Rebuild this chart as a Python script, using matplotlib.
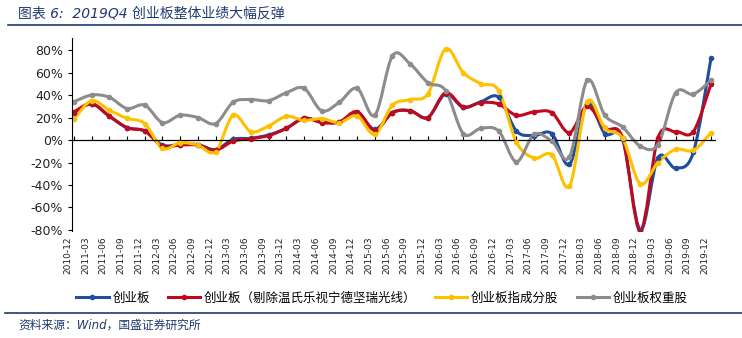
import numpy as np
import pandas as pd
import matplotlib
matplotlib.use("Agg")
import matplotlib.pyplot as plt
from matplotlib.path import Path
from matplotlib.patches import PathPatch
from matplotlib.lines import Line2D
import matplotlib.transforms as mtransforms

plt.rcParams['font.family'] = ['DejaVu Sans', 'Noto Sans CJK SC']

# =========================
# Data (YoY growth, %)
# =========================

quarters = pd.date_range("2010-12-31", "2019-12-31", freq="QE").strftime("%Y-%m").tolist()

gem_all = [24, 32, 21, 11, 8, -4.5, -4, -4, -8.5, 0.6, 1.5, 4.5, 10.4, 19.3, 16.4, 16, 24.4, 9.5,
           24.4, 26, 20, 41, 29, 34, 38, 8, 4, 5.7, -21.7, 32, 5.7, 0.6, -80, -15.8, -25, -11, 73]
gem_ex = [25, 32.4, 21.4, 11, 8, -5.4, -4.5, -4.5, -9, -1, 1.2, 4, 10.4, 19.3, 15.5, 16, 25.3, 8.6,
          24.4, 26, 20, 42, 29.5, 33.3, 32, 22, 25, 24.4, 6.5, 30, 10.4, 2, -81, 2, 7.4, 7.4, 50]
gem_index = [18.5, 35, 26.5, 19.3, 14.6, -7.4, -2.4, -4.5, -10.4, 22, 7.4, 12.5, 21, 17.5, 19, 15.5, 21.4, 5,
             31, 36, 41, 81, 60, 50, 44, -1.8, -16, -13, -41, 34, 10.4, 1.5, -39, -20, -8.3, -9.2, 6.5]
gem_weight = [34, 40, 38, 28, 31, 15.5, 22, 20, 14.6, 33.6, 36, 35, 42, 46, 26, 33.6, 46, 22,
              75, 67.6, 51, 44, 5.7, 10.4, 8, -19.3, 5, -1, -15, 53, 22, 11.6, -5.4, -4, 42, 40.8, 53]

series_labels = ["创业板", "创业板（剔除温氏乐视宁德坚瑞光线）", "创业板指成分股", "创业板权重股"]
series_colors = ["#1F4E9C", "#C0081E", "#FFC000", "#8C8C8C"]
y_ticks = [-80, -60, -40, -20, 0, 20, 40, 60, 80]

NAVY = "#1F3A70"


def smooth_path(xs, ys):
    # Excel-like smoothed line: cubic bezier through every point
    n = len(xs)
    verts = [(xs[0], ys[0])]
    codes = [Path.MOVETO]
    for i in range(n - 1):
        p0 = i - 1 if i > 0 else i
        p3 = i + 2 if i + 2 < n else i + 1
        c1 = (xs[i] + (xs[i + 1] - xs[p0]) / 6, ys[i] + (ys[i + 1] - ys[p0]) / 6)
        c2 = (xs[i + 1] - (xs[p3] - xs[i]) / 6, ys[i + 1] - (ys[p3] - ys[i]) / 6)
        verts += [c1, c2, (xs[i + 1], ys[i + 1])]
        codes += [Path.CURVE4] * 3
    return Path(verts, codes)


# =========================
# Plot
# =========================

fig = plt.figure(figsize=(7.42, 3.38), dpi=100)
ax = fig.add_axes([72 / 742, 1 - 231 / 338, (716 - 72) / 742, (231 - 38) / 338])

x = np.arange(len(quarters))
all_series = [gem_all, gem_ex, gem_index, gem_weight]

handles = []
for values, color, label in zip(all_series, series_colors, series_labels):
    ax.add_patch(PathPatch(smooth_path(x, values), facecolor="none", edgecolor=color, lw=2.2,
                           capstyle="round", joinstyle="round"))
    ax.plot(x, values, "o", ms=3, color=color)
    handles.append(Line2D([], [], color=color, lw=2.2, marker="o", ms=3))

ax.set_xlim(-0.11, 36.28)
ax.set_ylim(-80.9, 90.7)

for side in ["top", "right", "bottom"]:
    ax.spines[side].set_visible(False)
ax.spines["left"].set_color("black")
ax.spines["left"].set_linewidth(0.8)

ax.set_yticks(y_ticks)
ax.set_yticklabels([f"{v}%" for v in y_ticks], fontsize=9, color="#222222")
ax.tick_params(axis="y", direction="out", length=3, width=0.8)

ax.set_xticks(x)
ax.set_xticklabels(quarters, rotation=90, fontsize=6.5, color="#222222")
ax.tick_params(axis="x", length=0, pad=4)
shift = mtransforms.ScaledTranslation(-6 / 100, 0, fig.dpi_scale_trans)
for lbl in ax.get_xticklabels():
    lbl.set_transform(lbl.get_transform() + shift)

# zero line with small ticks
ax.axhline(0, color="black", lw=0.9, zorder=1)
ax.vlines(x, 0, 3.5, color="black", lw=0.8, zorder=1)

fig.legend(handles, series_labels, loc="center", bbox_to_anchor=(382 / 742, 1 - 298 / 338),
           ncol=4, frameon=False, fontsize=9, handlelength=2.6, handletextpad=0.3,
           columnspacing=1.45, prop={"family": ["Noto Sans CJK SC"], "size": 9})

# header / footer
fig.text(18 / 742, 1 - 13 / 338, "图表 6:  2019Q4 创业板整体业绩大幅反弹", fontsize=10,
         color=NAVY, style="italic", va="center", ha="left")
fig.add_artist(Line2D([8 / 742, 1], [1 - 25 / 338] * 2, color=NAVY, lw=1.2))
fig.add_artist(Line2D([5 / 742, 1], [1 - 313 / 338] * 2, color=NAVY, lw=1.2))
fig.text(18 / 742, 1 - 325 / 338, "资料来源：Wind，国盛证券研究所", fontsize=8.5,
         color=NAVY, style="italic", va="center", ha="left")

fig.savefig("out.png", dpi=100)
